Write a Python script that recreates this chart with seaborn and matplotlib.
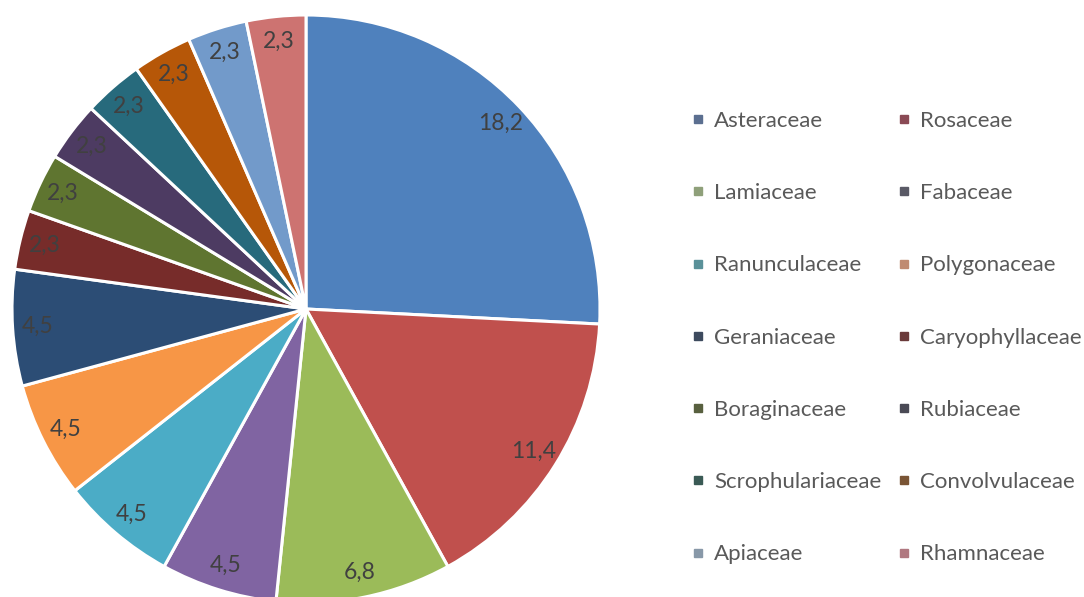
import matplotlib
matplotlib.use("Agg")
import matplotlib.pyplot as plt
from matplotlib.lines import Line2D
import seaborn as sns

families = ["Asteraceae", "Rosaceae", "Lamiaceae", "Fabaceae", "Ranunculaceae",
            "Polygonaceae", "Geraniaceae", "Caryophyllaceae", "Boraginaceae",
            "Rubiaceae", "Scrophulariaceae", "Convolvulaceae", "Apiaceae", "Rhamnaceae"]
values = [18.2, 11.4, 6.8, 4.5, 4.5, 4.5, 4.5, 2.3, 2.3, 2.3, 2.3, 2.3, 2.3, 2.3]

wedge_colors = ["#4F81BD", "#C0504D", "#9BBB59", "#8064A2", "#4BACC6", "#F79646",
                "#2C4D75", "#772C2A", "#5F7530", "#4D3B62", "#276A7C", "#B65708",
                "#729ACA", "#CD7371"]
legend_colors = ["#5b6f90", "#8a4a55", "#8fa07a", "#5a5a66", "#5a9199", "#c08a70",
                 "#3d4a5e", "#6a3a3a", "#58603f", "#4a4a55", "#3a5a55", "#7a5535",
                 "#8898a8", "#b07880"]

sns.set_theme(style="white")
plt.rcParams["font.family"] = ["Lato", "DejaVu Sans"]
palette = sns.color_palette(wedge_colors)

W, H = 1084, 597
fig = plt.figure(figsize=(W / 100, H / 100), dpi=100)
cx, cy, r = 306, 597 - 309, 294
ax = fig.add_axes([(cx - r) / W, (cy - r) / H, 2 * r / W, 2 * r / H])

vals_iter = iter(values)

def fmt(p):
    v = next(vals_iter)
    return f"{v:.1f}".replace(".", ",")

wedges, texts, autotexts = ax.pie(
    values, colors=palette, startangle=90, counterclock=False, radius=1.0,
    autopct=fmt, pctdistance=0.915,
    wedgeprops=dict(edgecolor="white", linewidth=2.2),
    textprops=dict(color="#404040", fontsize=16.5),
)
ax.set_xlim(-1, 1)
ax.set_ylim(-1, 1)
ax.set_aspect("equal")
ax.axis("off")
for w in wedges:
    w.set_clip_on(False)

# legend ordered row-wise across two columns
order = list(range(0, 14, 2)) + list(range(1, 14, 2))
handles = [Line2D([0], [0], marker="s", linestyle="none", markersize=5.5,
                  markerfacecolor=legend_colors[i], markeredgecolor=legend_colors[i])
           for i in order]
labels = [families[i] for i in order]
leg = fig.legend(handles, labels, ncol=2, loc="upper left",
                 bbox_to_anchor=(692 / W, 1 - 111 / H), frameon=False,
                 fontsize=16, labelspacing=2.35, handlelength=0.55,
                 handletextpad=0.45, columnspacing=0.73, borderaxespad=0,
                 borderpad=0)
for t in leg.get_texts():
    t.set_color("#595959")

fig.savefig("out.png", dpi=100)
